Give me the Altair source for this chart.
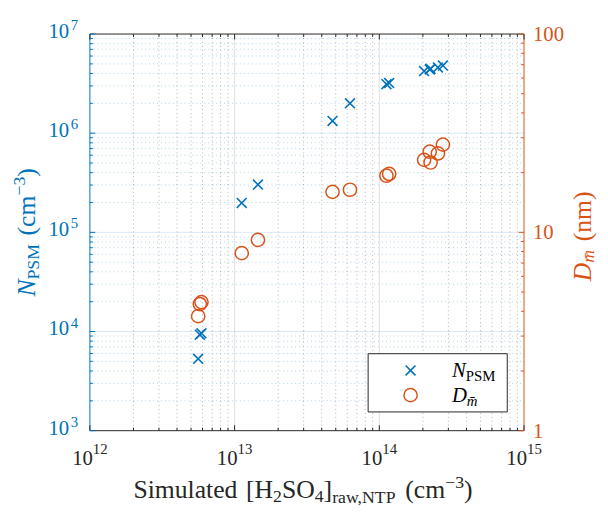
import altair as alt
import pandas as pd

# ---------------- data ----------------
h2so4 = [5.6e12, 5.75e12, 5.9e12, 1.12e13, 1.45e13, 4.75e13, 6.27e13,
         1.12e14, 1.17e14, 2.04e14, 2.23e14, 2.26e14, 2.54e14, 2.75e14]
n_psm = [5.3e3, 9.3e3, 9.6e3, 1.98e5, 3.03e5, 1.33e6, 2.0e6,
         3.12e6, 3.2e6, 4.23e6, 4.4e6, 4.46e6, 4.6e6, 4.81e6]
d_mean = [3.78, 4.35, 4.45, 7.86, 9.16, 16.0, 16.4,
          19.3, 19.7, 23.2, 25.5, 22.5, 25.0, 27.7]

x_major = [1e12, 1e13, 1e14, 1e15]
x_exp = ["12", "13", "14", "15"]
yl_major = [1e3, 1e4, 1e5, 1e6, 1e7]
yl_exp = ["3", "4", "5", "6", "7"]
yr_major = [1, 10, 100]
yr_text = ["1", "10", "100"]
mult = [2, 3, 4, 5, 6, 7, 8, 9]
x_minor = [m * d for d in [1e12, 1e13, 1e14] for m in mult]
yl_minor = [m * d for d in [1e3, 1e4, 1e5, 1e6] for m in mult]
yr_minor = [m * d for d in [1, 10] for m in mult]

df = pd.DataFrame({"x": h2so4, "n": n_psm, "d": d_mean})

# ---------------- style ----------------
W, H = 440, 402
FONT = "Liberation Serif"
BLUE = "#0072BD"
ORANGE = "#D95319"
DARK = "#262626"
X_PATH = "M-1,-1L1,1M-1,1L1,-1"

xs = alt.Scale(type="log", domain=[1e12, 1e15], nice=False)
yls = alt.Scale(type="log", domain=[1e3, 1e7], nice=False)
yrs = alt.Scale(type="log", domain=[1, 100], nice=False)


def X(f):
    return alt.X(f, type="quantitative", scale=xs, axis=None)


def YL(f):
    return alt.Y(f, type="quantitative", scale=yls, axis=None)


def YR(f):
    return alt.Y(f, type="quantitative", scale=yrs, axis=None)


one = pd.DataFrame({"a": [0]})

REG = {" ": 333, "(": 333, ")": 333, "[": 333, "]": 333, "c": 444, "m": 778,
       "n": 500, "S": 556, "i": 278, "u": 500, "l": 278, "a": 444, "t": 278,
       "e": 444, "d": 500, "H": 722, "O": 722, "2": 500, "4": 500, "3": 500,
       "r": 333, "w": 722, ",": 250, "N": 722, "T": 611, "P": 556, "M": 889,
       "\u2212": 564}
ITA = {"N": 667, "D": 722, "m": 722, "\u0304": 0}


def tw(s, size, italic=False):
    tab = ITA if italic else REG
    return sum(tab.get(c, 500) for c in s) / 1000.0 * size


layers = []

# grids
layers.append(alt.Chart(pd.DataFrame({"v": x_minor})).mark_rule(
    color="#b5b5b5", strokeWidth=1, strokeDash=[1, 3]).encode(
    x=X("v"), y=alt.value(0), y2=alt.value(H)))
layers.append(alt.Chart(pd.DataFrame({"v": yl_minor})).mark_rule(
    color=BLUE, strokeOpacity=0.32, strokeWidth=1, strokeDash=[1, 3]).encode(
    y=YL("v"), x=alt.value(0), x2=alt.value(W)))
layers.append(alt.Chart(pd.DataFrame({"v": x_major[1:3]})).mark_rule(
    color="#dedede", strokeWidth=1).encode(
    x=X("v"), y=alt.value(0), y2=alt.value(H)))
layers.append(alt.Chart(pd.DataFrame({"v": yl_major[1:4]})).mark_rule(
    color=BLUE, strokeOpacity=0.16, strokeWidth=1).encode(
    y=YL("v"), x=alt.value(0), x2=alt.value(W)))

# box
layers.append(alt.Chart(one).mark_rule(color=DARK, strokeWidth=1).encode(
    x=alt.value(0), x2=alt.value(W), y=alt.value(0)))
layers.append(alt.Chart(one).mark_rule(color=DARK, strokeWidth=1).encode(
    x=alt.value(0), x2=alt.value(W), y=alt.value(H)))
layers.append(alt.Chart(one).mark_rule(color=BLUE, strokeWidth=1).encode(
    x=alt.value(0), y=alt.value(0), y2=alt.value(H)))
layers.append(alt.Chart(one).mark_rule(color=ORANGE, strokeWidth=1).encode(
    x=alt.value(W), y=alt.value(0), y2=alt.value(H)))

# ticks (inward)
for vals, ln in [(x_major, 5.5), (x_minor, 3)]:
    d = pd.DataFrame({"v": vals})
    layers.append(alt.Chart(d).mark_rule(color=DARK, strokeWidth=1).encode(
        x=X("v"), y=alt.value(H), y2=alt.value(H - ln)))
    layers.append(alt.Chart(d).mark_rule(color=DARK, strokeWidth=1).encode(
        x=X("v"), y=alt.value(0), y2=alt.value(ln)))
for vals, ln in [(yl_major, 5.5), (yl_minor, 3)]:
    d = pd.DataFrame({"v": vals})
    layers.append(alt.Chart(d).mark_rule(color=BLUE, strokeWidth=1).encode(
        y=YL("v"), x=alt.value(0), x2=alt.value(ln)))
for vals, ln in [(yr_major, 5.5), (yr_minor, 3)]:
    d = pd.DataFrame({"v": vals})
    layers.append(alt.Chart(d).mark_rule(color=ORANGE, strokeWidth=1).encode(
        y=YR("v"), x=alt.value(W), x2=alt.value(W - ln)))

# data points
layers.append(alt.Chart(df).mark_point(
    shape=X_PATH, size=100, strokeWidth=1.6, color=BLUE, filled=False,
    opacity=1).encode(x=X("x"), y=YL("n")))
layers.append(alt.Chart(df).mark_point(
    shape="circle", size=180, strokeWidth=1.5, color=ORANGE, filled=False,
    opacity=1).encode(x=X("x"), y=YR("d")))

# tick labels
xl = pd.DataFrame({"v": x_major, "e": x_exp})
layers.append(alt.Chart(xl).mark_text(
    text="10", font=FONT, fontSize=21, align="right", baseline="alphabetic",
    dx=3, color=DARK).encode(x=X("v"), y=alt.value(H + 35)))
layers.append(alt.Chart(xl).mark_text(
    font=FONT, fontSize=15, align="left", baseline="alphabetic",
    dx=3, color=DARK).encode(x=X("v"), y=alt.value(H + 24), text="e:N"))

yl = pd.DataFrame({"v": yl_major, "e": yl_exp})
layers.append(alt.Chart(yl).mark_text(
    text="10", font=FONT, fontSize=21, align="right", baseline="alphabetic",
    dx=-21, dy=4, color=BLUE).encode(y=YL("v"), x=alt.value(0)))
layers.append(alt.Chart(yl).mark_text(
    font=FONT, fontSize=15, align="right", baseline="alphabetic",
    dx=-12, dy=-4, color=BLUE).encode(y=YL("v"), x=alt.value(0), text="e:N"))

yr = pd.DataFrame({"v": yr_major, "t": yr_text})
layers.append(alt.Chart(yr).mark_text(
    font=FONT, fontSize=21, align="left", baseline="alphabetic",
    dx=9, dy=7, color=ORANGE).encode(y=YR("v"), x=alt.value(W), text="t:N"))

# axis titles built from pieces (sub/superscripts); "_" marks a gap
M, S = 26, 18


def piece_width(t, sz, it):
    if t == "_":
        return tw(" ", sz)
    return tw(t, sz, it)


def run_pieces(pieces):
    return sum(piece_width(t, sz, it) for t, sz, it, off in pieces)


xt = [("Simulated", M, False, 0), ("_", M, False, 0), ("[H", M, False, 0),
      ("2", S, False, 4), ("SO", M, False, 0), ("4", S, False, 4),
      ("]", M, False, 0), ("raw,NTP", S, False, 5), ("_", M, False, 0),
      ("(cm", M, False, 0), ("\u22123", S, False, -10), (")", M, False, 0)]
pos = W / 2 - 4 - run_pieces(xt) / 2
for t, sz, it, off in xt:
    if t != "_":
        layers.append(alt.Chart(one).mark_text(
            text=t, font=FONT, fontSize=sz, align="left", baseline="alphabetic",
            color=DARK, fontStyle="italic" if it else "normal").encode(
            x=alt.value(pos), y=alt.value(H + 68 + off)))
    pos += piece_width(t, sz, it)

lt = [("N", M, True, 0), ("PSM", S, False, 4), ("_", M, False, 0),
      ("(cm", M, False, 0), ("\u22123", S, False, -10), (")", M, False, 0)]
pos = H / 2 + run_pieces(lt) / 2
for t, sz, it, off in lt:
    if t != "_":
        layers.append(alt.Chart(one).mark_text(
            text=t, font=FONT, fontSize=sz, align="left", baseline="alphabetic",
            angle=270, color=BLUE, fontStyle="italic" if it else "normal").encode(
            x=alt.value(-56 + off), y=alt.value(pos)))
    pos -= piece_width(t, sz, it)

rt = [("D", M, True, 0), ("m\u0304", S, True, 3), ("_", M, False, 0),
      ("(nm)", M, False, 0)]
pos = H / 2 + 4 + run_pieces(rt) / 2
for t, sz, it, off in rt:
    if t != "_":
        layers.append(alt.Chart(one).mark_text(
            text=t, font=FONT, fontSize=sz, align="left", baseline="alphabetic",
            angle=270, color=ORANGE, fontStyle="italic" if it else "normal").encode(
            x=alt.value(W + 68 + off), y=alt.value(pos)))
    pos -= piece_width(t, sz, it)

# legend
layers.append(alt.Chart(one).mark_rect(
    fill="white", stroke=DARK, strokeWidth=1).encode(
    x=alt.value(282), x2=alt.value(423), y=alt.value(324), y2=alt.value(383)))
layers.append(alt.Chart(one).mark_point(
    shape=X_PATH, size=100, strokeWidth=1.6, color=BLUE, filled=False,
    opacity=1).encode(x=alt.value(325), y=alt.value(341)))
layers.append(alt.Chart(one).mark_point(
    shape="circle", size=180, strokeWidth=1.5, color=ORANGE, filled=False,
    opacity=1).encode(x=alt.value(325), y=alt.value(366)))
for t, sz, it, dx, yy in [("N", 21, True, 0, 348), ("PSM", 15, False, 14, 351.5),
                          ("D", 21, True, 0, 373), ("m\u0304", 15, True, 15, 376.5)]:
    layers.append(alt.Chart(one).mark_text(
        text=t, font=FONT, fontSize=sz, align="left", baseline="alphabetic",
        color="black", fontStyle="italic" if it else "normal").encode(
        x=alt.value(367 + dx), y=alt.value(yy)))

chart = alt.layer(*layers).resolve_scale(y="independent").properties(
    width=W, height=H,
    padding={"left": 83, "top": 23, "right": 77, "bottom": 76},
    autosize=alt.AutoSizeParams(type="none"),
).configure_view(stroke=None)

chart.save("out.html", embed_options={"renderer": "svg", "actions": False})
